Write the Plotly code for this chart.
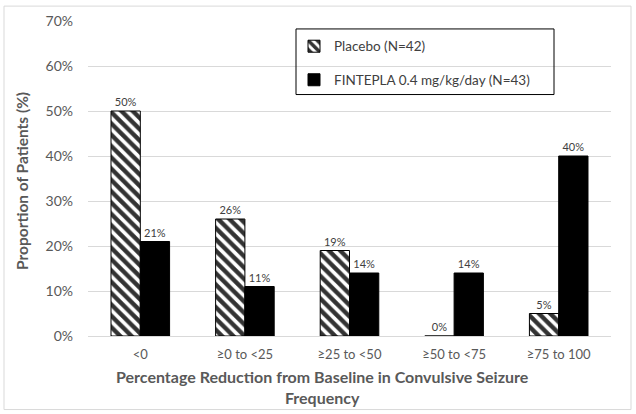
import plotly.graph_objects as go

categories = ["<0", "≥0 to <25", "≥25 to <50", "≥50 to <75", "≥75 to 100"]
placebo = [50, 26, 19, 0, 5]
fintepla = [21, 11, 14, 14, 40]
y_ticks = [0, 10, 20, 30, 40, 50, 60, 70]
y_tick_labels = ["0%", "10%", "20%", "30%", "40%", "50%", "60%", "70%"]

FONT = "Lato, Carlito, 'Open Sans', sans-serif"
GRAY = "#595959"

fig = go.Figure()
fig.add_trace(go.Bar(
    x=categories, y=placebo, name="Placebo (N=42)",
    marker=dict(color="white", line=dict(color="black", width=1),
                pattern=dict(shape="\\", fgcolor="#333333", fgopacity=1, bgcolor="white",
                             size=8, solidity=0.55)),
    text=[f"{v}%" for v in placebo], texttemplate="%{text}", textposition="outside",
    textfont=dict(size=11, color="#404040", family=FONT),
    cliponaxis=False, legendgroup="a",
))
fig.add_trace(go.Bar(
    x=categories, y=fintepla, name="FINTEPLA 0.4 mg/kg/day (N=43)",
    marker=dict(color="black", line=dict(color="black", width=1)),
    text=[f"{v}%" for v in fintepla], texttemplate="%{text}", textposition="outside",
    textfont=dict(size=11, color="#404040", family=FONT),
    cliponaxis=False, legendgroup="b",
))

L, R, T, B = 88, 25, 19, 78
W, H = 636, 414
pw, ph = W - L - R, H - T - B

def px(x):
    return (x - L) / pw

def py(y):
    return (H - B - y) / ph

fig.update_layout(
    width=W, height=H,
    margin=dict(l=L, r=R, t=T, b=B),
    paper_bgcolor="white", plot_bgcolor="white",
    barmode="group", bargap=0.44, bargroupgap=0,
    font=dict(family=FONT, color=GRAY),
    showlegend=True,
    legend=dict(x=px(294), y=py(29), xanchor="left", yanchor="top",
                font=dict(size=13.5, color="#404040", family=FONT),
                bgcolor="rgba(0,0,0,0)", borderwidth=0,
                itemwidth=30, tracegroupgap=13, traceorder="grouped"),
    xaxis=dict(showgrid=False, showline=True, linecolor="#d9d9d9", linewidth=1,
               tickfont=dict(size=13, color=GRAY, family=FONT), ticks="",
               ticklabelstandoff=6),
    yaxis=dict(range=[0, 70], tickvals=y_ticks, ticktext=y_tick_labels,
               showgrid=True, gridcolor="#d9d9d9", gridwidth=1, zeroline=False,
               tickfont=dict(size=14, color=GRAY, family=FONT), ticks="",
               ticklabelstandoff=14),
    shapes=[
        dict(type="rect", xref="paper", yref="paper",
             x0=px(4), x1=px(631), y0=py(410), y1=py(4),
             line=dict(color="#d9d9d9", width=1), fillcolor="rgba(0,0,0,0)", layer="below"),
        dict(type="rect", xref="paper", yref="paper",
             x0=px(296), x1=px(554), y0=py(93), y1=py(27),
             line=dict(color="black", width=1), fillcolor="rgba(0,0,0,0)"),
    ],
    annotations=[
        dict(text="<b>Proportion of Patients (%)</b>", xref="paper", yref="paper",
             x=px(22), y=py(180), textangle=-90, showarrow=False,
             font=dict(size=15.5, color=GRAY, family=FONT), xanchor="center", yanchor="middle"),
        dict(text="<b>Percentage Reduction from Baseline in Convulsive Seizure<br>Frequency</b>",
             xref="paper", yref="paper", x=px(322), y=py(387), showarrow=False,
             font=dict(size=16, color=GRAY, family=FONT), xanchor="center", yanchor="middle"),
    ],
)

fig.write_html("out.html", post_script="document.body.style.margin='0';",
               config={"displayModeBar": False})
